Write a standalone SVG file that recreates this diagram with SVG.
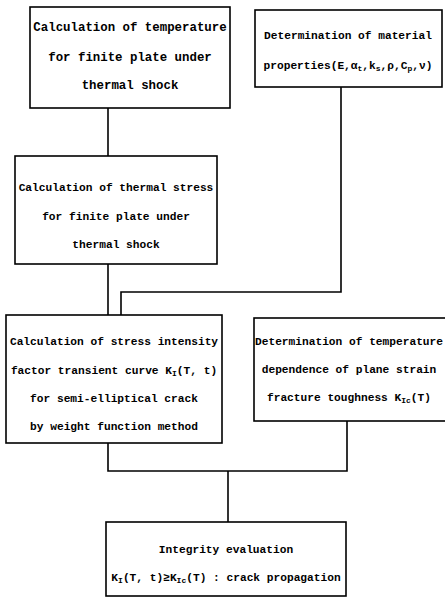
<svg xmlns="http://www.w3.org/2000/svg" width="445" height="597" viewBox="0 0 445 597">
<style>
.box{fill:#fff;stroke:#000;stroke-width:1.6}
.con{fill:none;stroke:#000;stroke-width:1.6}
text{font-family:"Liberation Mono","DejaVu Sans Mono",monospace;font-weight:bold;font-size:11.2px;fill:#000;text-anchor:middle}
.big{font-size:12.4px}
.sub{font-size:8px}
</style>
<rect width="445" height="597" fill="#fff"/>
<g id="connectors">
<path class="con" d="M108 108 V156"/>
<path class="con" d="M108 264 V315"/>
<path class="con" d="M341 87 V292 H121 V315"/>
<path class="con" d="M108 443 V471 H347 V421"/>
<path class="con" d="M228 471 V522"/>
</g>
<g id="n1">
<rect class="box" x="30" y="7" width="200" height="101"/>
<text class="big" x="130" y="31">Calculation of temperature</text>
<text class="big" x="130" y="61">for finite plate under</text>
<text class="big" x="130" y="89">thermal shock</text>
</g>
<g id="n2">
<rect class="box" x="15" y="156" width="202" height="108"/>
<text x="116" y="191">Calculation of thermal stress</text>
<text x="116" y="220">for finite plate under</text>
<text x="116" y="248">thermal shock</text>
</g>
<g id="n3">
<rect class="box" x="255" y="10" width="187" height="77"/>
<text x="348" y="39">Determination of material</text>
<text x="348" y="69">properties(E,α<tspan class="sub" dy="2">t</tspan><tspan dy="-2">,k</tspan><tspan class="sub" dy="2">s</tspan><tspan dy="-2">,ρ,C</tspan><tspan class="sub" dy="2">p</tspan><tspan dy="-2">,ν)</tspan></text>
</g>
<g id="n4">
<rect class="box" x="6" y="315" width="216" height="128"/>
<text x="114" y="345">Calculation of stress intensity</text>
<text x="114" y="374">factor transient curve K<tspan class="sub" dy="2">I</tspan><tspan dy="-2">(T, t)</tspan></text>
<text x="114" y="402">for semi-elliptical crack</text>
<text x="114" y="430">by weight function method</text>
</g>
<g id="n5">
<rect class="box" x="254" y="318" width="192" height="103"/>
<text x="349" y="345">Determination of temperature</text>
<text x="349" y="373">dependence of plane strain</text>
<text x="349" y="401">fracture toughness K<tspan class="sub" dy="2">Ic</tspan><tspan dy="-2">(T)</tspan></text>
</g>
<g id="n6">
<rect class="box" x="106" y="522" width="240" height="74"/>
<text x="226" y="553">Integrity evaluation</text>
<text x="226" y="581">K<tspan class="sub" dy="2">I</tspan><tspan dy="-2">(T, t)≥K</tspan><tspan class="sub" dy="2">Ic</tspan><tspan dy="-2">(T) : crack propagation</tspan></text>
</g>
</svg>
